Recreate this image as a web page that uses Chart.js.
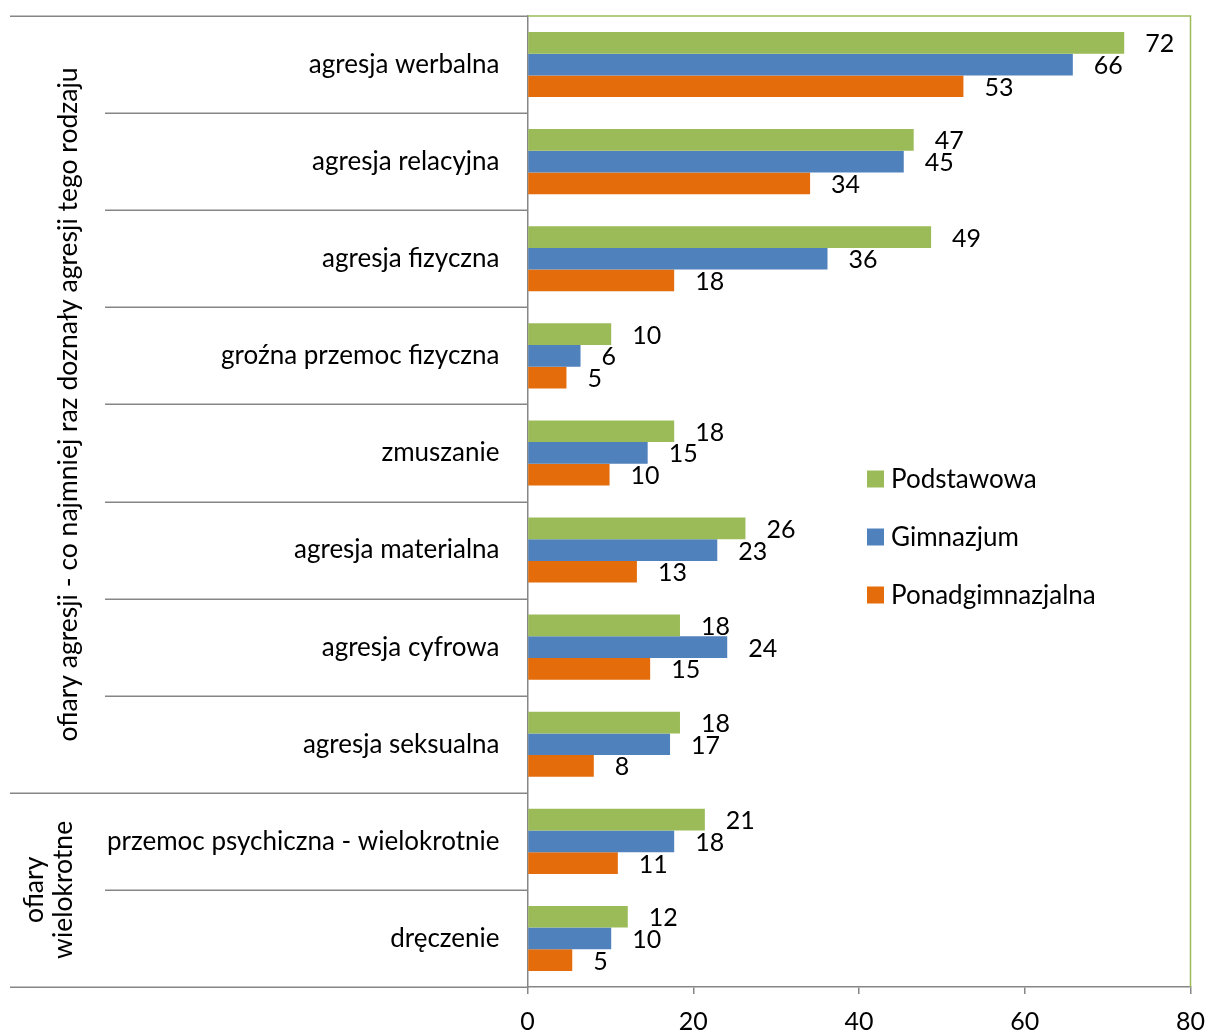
<!DOCTYPE html>
<html>
<head>
<meta charset="utf-8">
<script src="https://cdn.jsdelivr.net/npm/chart.js@4"></script>
<style>
  html, body { margin: 0; padding: 0; background: #ffffff; }
  #wrap { width: 1209px; height: 1034px; }
</style>
</head>
<body>
<div id="wrap"><canvas id="c" width="1209" height="1034"></canvas></div>
<script>
// ---- data ----
const categories = [
  'agresja werbalna', 'agresja relacyjna', 'agresja fizyczna', 'groźna przemoc fizyczna',
  'zmuszanie', 'agresja materialna', 'agresja cyfrowa', 'agresja seksualna',
  'przemoc psychiczna - wielokrotnie', 'dręczenie'
];
const seriesNames = ['Podstawowa', 'Gimnazjum', 'Ponadgimnazjalna'];
const podstawowa = [72.0, 46.6, 48.7, 10.1, 17.7, 26.3, 18.4, 18.4, 21.4, 12.1];
const gimnazjum = [65.8, 45.4, 36.2, 6.4, 14.5, 22.9, 24.1, 17.2, 17.7, 10.1];
const ponadgimnazjalna = [52.6, 34.1, 17.7, 4.7, 9.9, 13.2, 14.8, 8.0, 10.9, 5.4];
const groupLabels = [
  ['ofiary agresji - co najmniej raz doznały agresji tego rodzaju'],
  ['ofiary', 'wielokrotne']
];
const groupSizes = [8, 2];
const xTicks = [0, 20, 40, 60, 80];

// ---- style ----
const FONT = 'Lato, "Liberation Sans", sans-serif';
const colors = ['#9BBB59', '#4F81BD', '#E46C0A'];
const axisGray = '#868686';

function zeroPad(scale) {
  scale.paddingTop = 0; scale.paddingBottom = 0;
  scale.paddingLeft = 0; scale.paddingRight = 0;
}

const decorPlugin = {
  id: 'decor',
  afterDatasetsDraw(chart) {
    const ctx = chart.ctx;
    ctx.save();
    ctx.font = '25px ' + FONT;
    ctx.fillStyle = '#000';
    ctx.textAlign = 'left';
    ctx.textBaseline = 'alphabetic';
    chart.data.datasets.forEach((ds, di) => {
      const meta = chart.getDatasetMeta(di);
      meta.data.forEach((el, i) => {
        const v = Math.round(ds.data[i]);
        ctx.fillText(String(v), el.x + 21, el.y + 9.5);
      });
    });
    ctx.restore();
  },
  afterDraw(chart) {
    const ctx = chart.ctx;
    const area = chart.chartArea;
    const ys = chart.scales.y;
    const n = categories.length;
    const boundary = (i) => {
      if (i <= 0) return area.top;
      if (i >= n) return area.bottom;
      return (ys.getPixelForValue(i - 1) + ys.getPixelForValue(i)) / 2;
    };
    // plot border (top & right) in green
    ctx.save();
    ctx.strokeStyle = '#9BBB59';
    ctx.lineWidth = 1.5;
    ctx.beginPath();
    ctx.moveTo(area.left, area.top);
    ctx.lineTo(area.right, area.top);
    ctx.lineTo(area.right, area.bottom);
    ctx.stroke();
    ctx.restore();

    // separators in category area
    const groupEdges = [0];
    groupSizes.forEach(s => groupEdges.push(groupEdges[groupEdges.length - 1] + s));
    ctx.save();
    ctx.strokeStyle = axisGray;
    ctx.lineWidth = 1.5;
    for (let i = 0; i <= n; i++) {
      const y = Math.round(boundary(i)) + 0.25;
      const isGroup = groupEdges.includes(i);
      ctx.beginPath();
      ctx.moveTo(isGroup ? 10 : 105, y);
      ctx.lineTo(area.left, y);
      ctx.stroke();
    }
    ctx.restore();

    // group labels (rotated)
    ctx.save();
    ctx.font = '26.5px ' + FONT;
    ctx.fillStyle = '#000';
    ctx.textAlign = 'center';
    ctx.textBaseline = 'middle';
    groupLabels.forEach((lines, g) => {
      const yc = (boundary(groupEdges[g]) + boundary(groupEdges[g + 1])) / 2;
      const xs = lines.length === 1 ? [68] : [34, 63];
      lines.forEach((t, k) => {
        ctx.save();
        ctx.translate(xs[k], yc);
        ctx.rotate(-Math.PI / 2);
        ctx.fillText(t, 0, 0);
        ctx.restore();
      });
    });
    ctx.restore();

    // legend
    ctx.save();
    ctx.font = '26px ' + FONT;
    ctx.textAlign = 'left';
    ctx.textBaseline = 'middle';
    chart.data.datasets.forEach((ds, di) => {
      const yc = 479 + di * 58;
      ctx.fillStyle = ds.backgroundColor;
      ctx.fillRect(867, yc - 8.5, 17, 17);
      ctx.fillStyle = '#000';
      ctx.fillText(ds.label, 891, yc + 1);
    });
    ctx.restore();
  }
};

new Chart(document.getElementById('c'), {
  type: 'bar',
  data: {
    labels: categories,
    datasets: [
      { label: seriesNames[0], data: podstawowa, backgroundColor: colors[0] },
      { label: seriesNames[1], data: gimnazjum, backgroundColor: colors[1] },
      { label: seriesNames[2], data: ponadgimnazjalna, backgroundColor: colors[2] }
    ]
  },
  options: {
    indexAxis: 'y',
    responsive: false,
    animation: false,
    devicePixelRatio: 1,
    layout: { padding: { top: 16, right: 18.5, bottom: 0, left: 0 } },
    datasets: {
      bar: {
        categoryPercentage: 0.67,
        barPercentage: 1.0,
        borderWidth: 0
      }
    },
    plugins: {
      legend: { display: false },
      tooltip: { enabled: false }
    },
    scales: {
      x: {
        min: 0, max: 80,
        afterBuildTicks(scale) { scale.ticks = xTicks.map(v => ({ value: v })); },
        afterFit(scale) { scale.height = 47; zeroPad(scale); },
        grid: { drawOnChartArea: false, drawTicks: true, tickLength: 7, color: axisGray, lineWidth: 1.5 },
        border: { display: true, color: axisGray, width: 1.5 },
        ticks: { color: '#000', font: { family: FONT, size: 25 }, padding: 13 }
      },
      y: {
        afterFit(scale) { scale.width = 527.5; zeroPad(scale); },
        grid: { display: false, drawTicks: false },
        border: { display: true, color: axisGray, width: 1.5 },
        ticks: { color: '#000', font: { family: FONT, size: 26 }, padding: 28, autoSkip: false }
      }
    }
  },
  plugins: [decorPlugin]
});
</script>
</body>
</html>
